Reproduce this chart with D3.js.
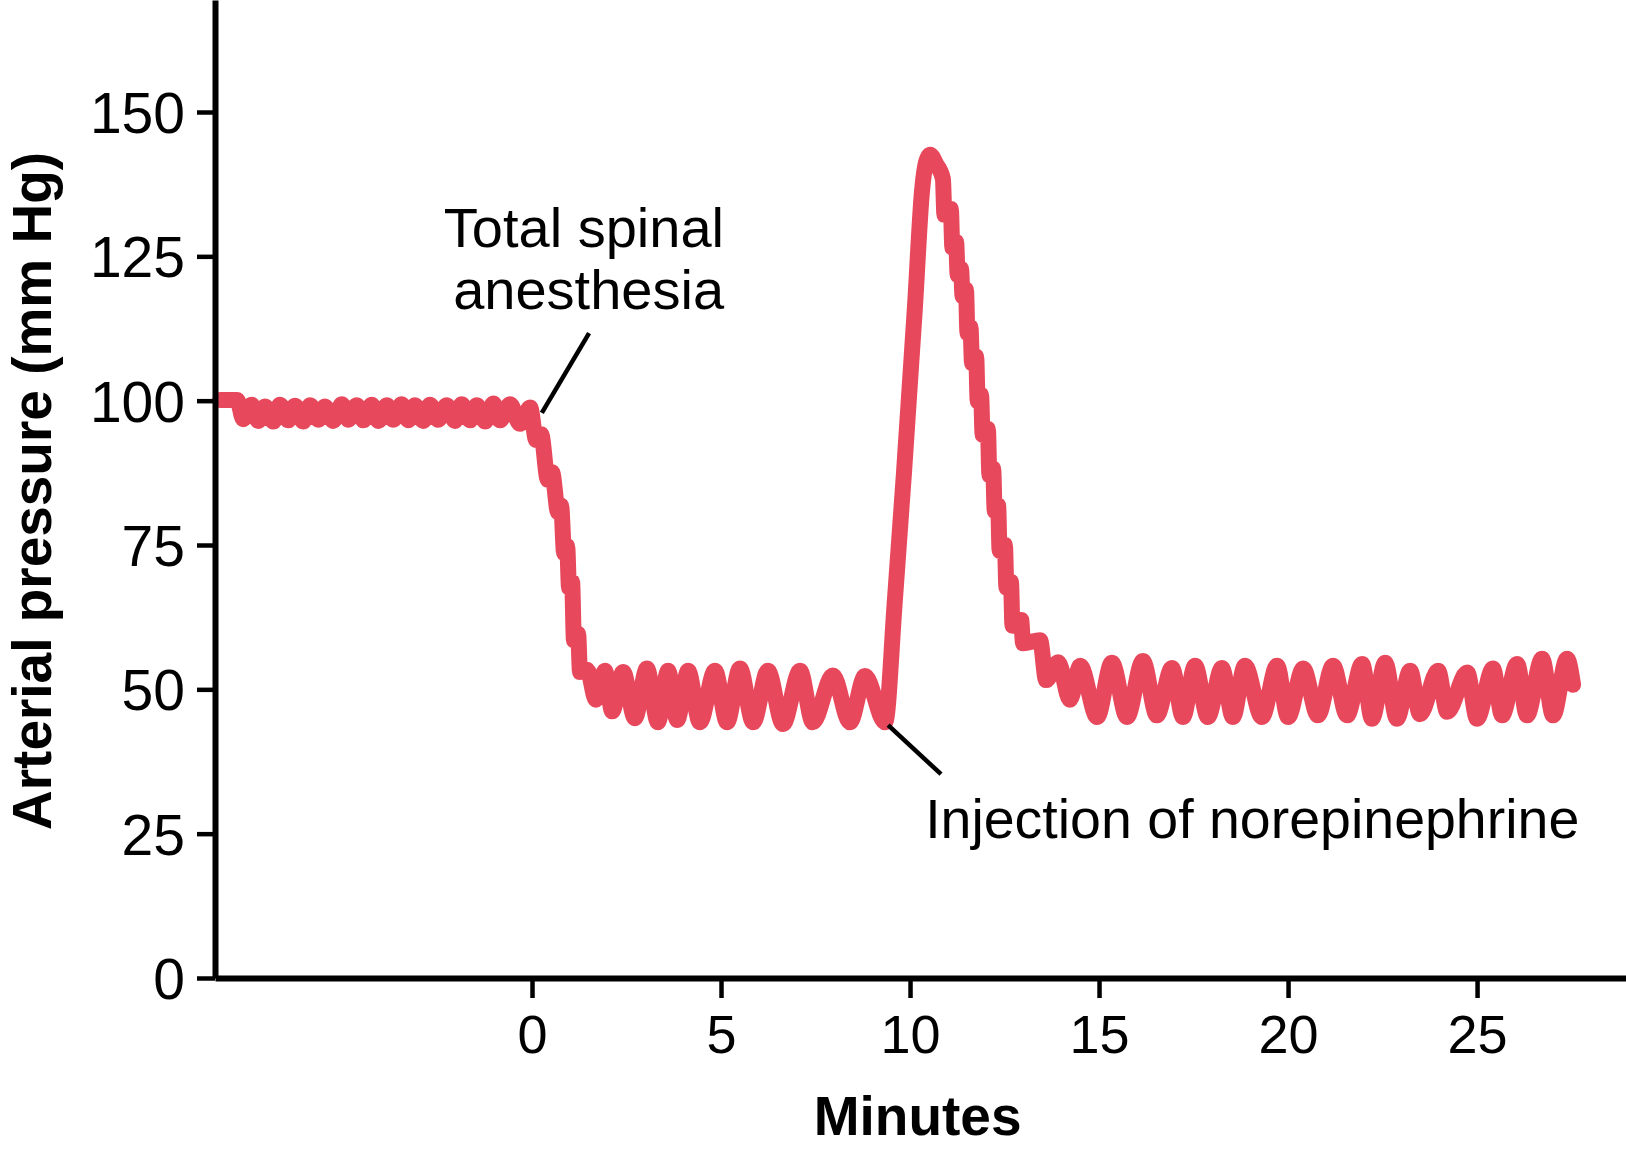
<!DOCTYPE html>
<html>
<head>
<meta charset="utf-8">
<script src="https://cdn.jsdelivr.net/npm/d3@7"></script>
<style>
  html, body { margin: 0; padding: 0; background: #fff; }
  svg { display: block; }
  text { font-family: "Liberation Sans", Arial, Helvetica, sans-serif; fill: #000; }
</style>
</head>
<body>
<svg id="chart" width="1626" height="1151"></svg>
<script>
// ---------------- data ----------------
const minutes = [
  -8.25, -7.80,
  -7.64, -7.42, -7.24, -7.06, -6.84, -6.67, -6.45, -6.27, -6.05, -5.87, -5.65, -5.48,
  -5.26, -5.03, -4.86, -4.64, -4.46, -4.24, -4.06, -3.84, -3.67, -3.45, -3.27, -3.10,
  -2.88, -2.70, -2.48, -2.26, -2.04, -1.86, -1.64, -1.46, -1.24, -1.02, -0.85, -0.58,
  -0.32, -0.05,
  0.11, 0.24, 0.42, 0.53, 0.69, 0.77, 0.85, 0.93, 0.98, 1.06, 1.11, 1.22, 1.27, 1.46,
  1.69, 1.93,
  2.12, 2.41, 2.72, 3.04, 3.33, 3.60, 3.84, 4.13, 4.44, 4.84, 5.16, 5.50, 5.85, 6.24,
  6.64, 7.09, 7.43, 7.96, 8.41, 8.81, 9.34,
  9.60, 9.84, 10.13, 10.32, 10.42, 10.53, 10.69,
  10.87, 10.91, 11.08, 11.12, 11.22, 11.26, 11.35, 11.39, 11.48, 11.52, 11.60, 11.64,
  11.75, 11.79, 11.88, 11.92, 12.06, 12.10, 12.20, 12.24, 12.33, 12.37, 12.51, 12.55,
  12.67, 12.71, 12.94, 12.99, 13.44, 13.60,
  13.92, 14.23, 14.50, 14.95, 15.34, 15.74, 16.16, 16.53, 16.93, 17.22, 17.54, 17.88,
  18.25, 18.54, 18.86, 19.31, 19.71, 20.00, 20.40, 20.79, 21.19, 21.56, 21.96, 22.22,
  22.57, 22.88, 23.23, 23.49, 23.97, 24.21, 24.74, 25.00, 25.42, 25.66, 26.06, 26.32,
  26.72, 27.01, 27.38, 27.54
];
const pressure = [
  100.1, 100.1,
  96.8, 99.3, 96.5, 99.0, 96.4, 99.3, 96.6, 99.1, 96.4, 99.2, 96.7, 99.0,
  96.5, 99.4, 96.7, 99.2, 96.6, 99.3, 96.5, 99.2, 96.7, 99.4, 96.6, 99.2,
  96.5, 99.3, 96.7, 99.2, 96.5, 99.4, 96.6, 99.2, 96.4, 99.5, 96.6, 99.4,
  96.0, 98.8,
  93.2, 94.2, 86.3, 87.6, 80.7, 81.8, 73.6, 74.8, 67.6, 68.6, 58.5, 59.6, 53.0, 53.4,
  48.2, 53.2,
  46.2, 53.0, 45.0, 53.6, 44.3, 53.2, 44.7, 53.2, 44.3, 53.2, 44.3, 53.6, 44.3, 53.2,
  44.0, 53.2, 44.3, 52.4, 44.3, 52.3, 44.3,
  65.5, 87.5, 116.2, 136.5, 141.2, 142.6, 141.0,
  138.4, 132.2, 133.2, 126.5, 127.5, 121.8, 122.8, 118.1, 119.2, 111.7, 112.7, 106.5,
  107.6, 99.9, 101.0, 94.1, 95.1, 87.1, 88.2, 80.9, 81.9, 74.0, 75.0, 67.6,
  68.6, 61.0, 62.0, 58.0, 58.5, 51.6,
  54.7, 48.2, 54.1, 45.2, 54.6, 45.2, 54.9, 45.5, 53.7, 45.2, 54.1, 45.2,
  53.7, 45.2, 54.1, 45.2, 54.1, 45.2, 53.6, 45.5, 54.1, 45.5, 54.4, 44.9,
  54.6, 44.9, 53.2, 45.7, 53.2, 46.1, 52.9, 44.9, 53.6, 45.5, 54.4, 45.5,
  55.3, 45.5, 55.3, 50.8
];
const xTickValues = [0, 5, 10, 15, 20, 25];
const yTickValues = [0, 25, 50, 75, 100, 125, 150];
const xDomain = [-8.386, 28.94];
const yDomain = [0, 169.4];
const xTitle = "Minutes";
const yTitle = "Arterial pressure (mm Hg)";
const anesthesiaLabel = ["Total spinal", "anesthesia"];
const anesthesiaLabelAt = [5.08, 126.6];          // minutes, mm Hg (right end, first baseline)
const anesthesiaLeader = [[0.26, 97.9], [1.51, 111.7]];
const injectionLabel = "Injection of norepinephrine";
const injectionLabelAt = [10.40, 24.3];
const injectionLeader = [[9.42, 43.8], [10.82, 35.3]];

// ---------------- drawing ----------------
const svg = d3.select("#chart");
const x = d3.scaleLinear().domain(xDomain).range([215, 1626]);
const y = d3.scaleLinear().domain(yDomain).range([978, 0]);
const red = "#E8485C";

// trace
const pts = minutes.map((m, i) => [m, pressure[i]]);
const line = d3.line().x(d => x(d[0])).y(d => y(d[1])).curve(d3.curveMonotoneX);
svg.append("path")
  .attr("d", line(pts))
  .attr("fill", "none")
  .attr("stroke", red)
  .attr("stroke-width", 16)
  .attr("stroke-linecap", "round")
  .attr("stroke-linejoin", "round");

// y axis
const yAxis = svg.append("g")
  .attr("transform", `translate(${x(xDomain[0])},0)`)
  .call(d3.axisLeft(y).tickValues(yTickValues).tickSize(18).tickSizeOuter(0).tickPadding(12));
yAxis.select(".domain").attr("stroke", "#000").attr("stroke-width", 6);
yAxis.selectAll(".tick line").attr("stroke", "#000").attr("stroke-width", 4.5);
yAxis.selectAll(".tick text").attr("font-size", 57).attr("fill", "#000")
  .attr("font-family", "Liberation Sans, Arial, sans-serif").attr("dy", "0.36em");

// x axis
const xAxis = svg.append("g")
  .attr("transform", `translate(0,${y(0)})`)
  .call(d3.axisBottom(x).tickValues(xTickValues).tickSize(20).tickSizeOuter(0).tickPadding(17));
xAxis.select(".domain").attr("stroke", "#000").attr("stroke-width", 6);
xAxis.selectAll(".tick line").attr("stroke", "#000").attr("stroke-width", 4.5);
xAxis.selectAll(".tick text").attr("font-size", 54).attr("fill", "#000")
  .attr("font-family", "Liberation Sans, Arial, sans-serif");

// titles
svg.append("text")
  .attr("x", x(10.2)).attr("y", 1135)
  .attr("text-anchor", "middle")
  .attr("font-size", 55).attr("font-weight", "bold")
  .text(xTitle);

svg.append("text")
  .attr("transform", `translate(51,${(y(yDomain[1]) + y(0)) / 2 + 2}) rotate(-90)`)
  .attr("text-anchor", "middle")
  .attr("font-size", 55).attr("font-weight", "bold")
  .attr("textLength", 678).attr("lengthAdjust", "spacingAndGlyphs")
  .text(yTitle);

// annotations
const ann = svg.append("g");
anesthesiaLabel.forEach((s, i) => {
  ann.append("text")
    .attr("x", x(anesthesiaLabelAt[0]))
    .attr("y", y(anesthesiaLabelAt[1]) + i * 62)
    .attr("text-anchor", "end")
    .attr("font-size", 56)
    .text(s);
});
ann.append("line")
  .attr("x1", x(anesthesiaLeader[0][0])).attr("y1", y(anesthesiaLeader[0][1]))
  .attr("x2", x(anesthesiaLeader[1][0])).attr("y2", y(anesthesiaLeader[1][1]))
  .attr("stroke", "#000").attr("stroke-width", 4.5);

ann.append("text")
  .attr("x", x(injectionLabelAt[0]))
  .attr("y", y(injectionLabelAt[1]))
  .attr("font-size", 55.5)
  .text(injectionLabel);
ann.append("line")
  .attr("x1", x(injectionLeader[0][0])).attr("y1", y(injectionLeader[0][1]))
  .attr("x2", x(injectionLeader[1][0])).attr("y2", y(injectionLeader[1][1]))
  .attr("stroke", "#000").attr("stroke-width", 4.5);
</script>
</body>
</html>
